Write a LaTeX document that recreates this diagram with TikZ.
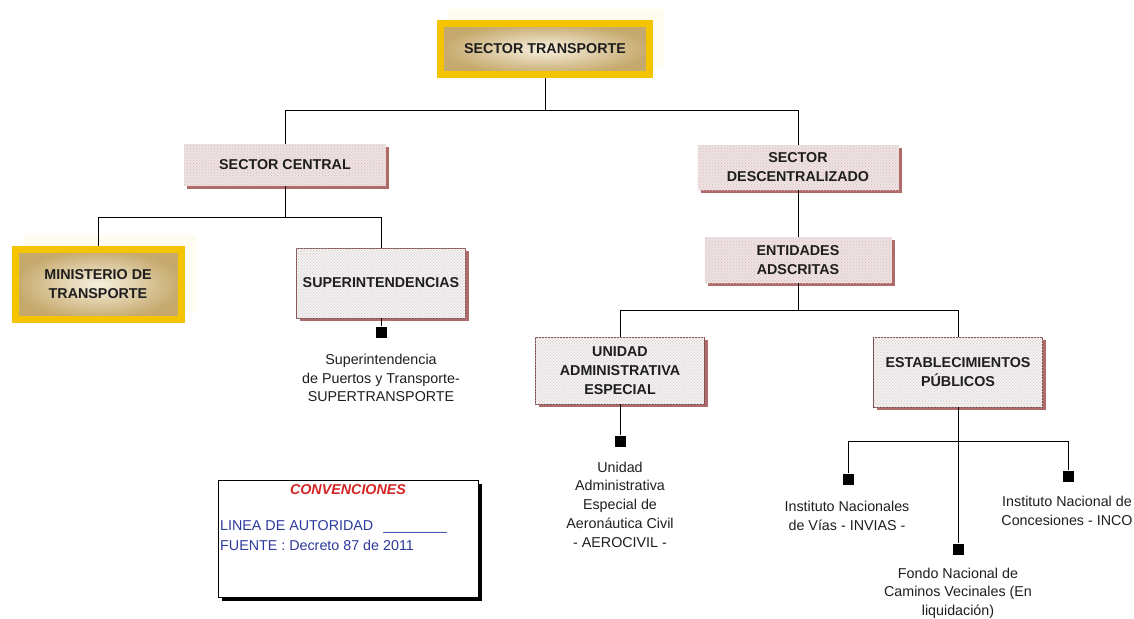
\documentclass[tikz,border=0pt]{standalone}
\usepackage{fontspec}
\setmainfont{Liberation Sans}
\usetikzlibrary{shadows,patterns,calc}
\definecolor{gold}{HTML}{F4C400}
\definecolor{yin}{HTML}{F7F0DF}
\definecolor{yout}{HTML}{C6A96C}
\definecolor{faint}{HTML}{FEFBF1}
\definecolor{txt}{HTML}{1E1E1E}
\definecolor{pinkfill}{HTML}{EFE2E2}
\definecolor{pinkdot}{HTML}{D6BEBE}
\definecolor{greyfill}{HTML}{F5F3F3}
\definecolor{greydot}{HTML}{DCD5D5}
\definecolor{shred}{HTML}{B06A6A}
\definecolor{bord}{HTML}{7E4E4E}
\definecolor{convred}{HTML}{D42424}
\definecolor{convblue}{HTML}{2C3A9C}
\pgfdeclarelayer{faintlayer}
\pgfsetlayers{faintlayer,main}
\begin{document}
\begin{tikzpicture}[x=1pt,y=-1pt,
  every node/.style={font=\fontsize{14.3}{18.5}\selectfont, text=txt},
  ybox/.style={draw=gold, line width=7pt, inner color=yin, outer color=yout,
    font=\fontsize{14.3}{19}\selectfont\bfseries, align=center, inner sep=0pt},
  pbox/.style={fill=pinkfill, postaction={pattern=crosshatch dots, pattern color=pinkdot},
    font=\fontsize{14.3}{19}\selectfont\bfseries, align=center, inner sep=0pt,
    drop shadow={shadow xshift=3pt, shadow yshift=-3pt, fill=shred, opacity=1}},
  bbox/.style={pbox, fill=greyfill, postaction={pattern=crosshatch dots, pattern color=greydot},
    draw=bord, line width=0.8pt},
  sq/.style={fill=black, minimum size=11pt, inner sep=0pt},
  lbl/.style={align=center, inner sep=0pt},
  conn/.style={draw=black, line width=1pt}
]
\useasboundingbox (0,0) rectangle (1134,618);

% faint offset backgrounds of the yellow boxes
\begin{pgfonlayer}{faintlayer}
\fill[faint] (448,9) rectangle (664,67);
\fill[faint] (23,235) rectangle (196,312);
\end{pgfonlayer}

% boxes
\node[ybox, minimum width=209pt, minimum height=51pt] (st) at (545,49) {SECTOR TRANSPORTE};
\node[pbox, minimum width=202pt, minimum height=42pt] (sc) at (285,165) {SECTOR CENTRAL};
\node[pbox, minimum width=201pt, minimum height=45pt] (sd) at (798,167.5) {SECTOR\\DESCENTRALIZADO};
\node[ybox, minimum width=166pt, minimum height=70pt] (min) at (98,284.5) {MINISTERIO DE\\TRANSPORTE};
\node[bbox, minimum width=169pt, minimum height=70pt] (sup) at (381,283) {SUPERINTENDENCIAS};
\node[pbox, minimum width=187pt, minimum height=46pt] (ent) at (798,260) {ENTIDADES\\ADSCRITAS};
\node[bbox, minimum width=169pt, minimum height=67pt] (uae) at (620,370.5) {UNIDAD\\ADMINISTRATIVA\\ESPECIAL};
\node[bbox, minimum width=169pt, minimum height=70pt] (ep) at (958,372) {ESTABLECIMIENTOS\\PÚBLICOS};

% squares
\node[sq] (sq1) at (381,332) {};
\node[sq] (sq2) at (620,441) {};
\node[sq] (sq3) at (848,479) {};
\node[sq] (sq4) at (1068,476) {};
\node[sq] (sq5) at (958,549) {};

% labels
\node[lbl] (l1) at (381,378) {Superintendencia\\de Puertos y Transporte-\\SUPERTRANSPORTE};
\node[lbl, font=\fontsize{14.3}{18.8}\selectfont] (l2) at (620,504.5) {Unidad\\Administrativa\\Especial de\\Aeronáutica Civil\\- AEROCIVIL -};
\node[lbl] (l3) at (847,516) {Instituto Nacionales\\de Vías - INVIAS -};
\node[lbl] (l4) at (1067,511) {Instituto Nacional de\\Concesiones - INCO};
\node[lbl] (l5) at (958,593) {Fondo Nacional de\\Caminos Vecinales (En\\liquidación)};

% conventions box
\node[draw=black, fill=white, line width=0.8pt, minimum width=260pt, minimum height=117pt, inner sep=0pt,
  drop shadow={shadow xshift=4pt, shadow yshift=-4pt, fill=black, opacity=1}] (conv) at (348,538.5) {};
\node[inner sep=0pt, text=convred, font=\fontsize{14.3}{18}\selectfont\bfseries\itshape] (convt) at (348,490) {CONVENCIONES};
\node[inner sep=0pt, anchor=west, text=convblue] (c1) at (220,527) {LINEA DE AUTORIDAD\hspace{10pt}\_\_\_\_\_\_\_\_};
\node[inner sep=0pt, anchor=west, text=convblue] (c2) at (220,545) {FUENTE : Decreto 87 de 2011};

% connectors
\coordinate (j1) at (545,110);
\coordinate (j2) at (285,217);
\coordinate (j3) at (798,310);
\coordinate (j4) at (958,441);
\draw[conn] (st.south) -- (j1);
\draw[conn] (sc.north) -- (sc.north |- j1) -- (sd.north |- j1) -- (sd.north);
\draw[conn] (sc.south) -- (sc.south |- j2);
\draw[conn] (min.north) -- (min.north |- j2) -- (sup.north |- j2) -- (sup.north);
\draw[conn] (sup.south) -- (sq1.north);
\draw[conn] (sd.south) -- (ent.north);
\draw[conn] (ent.south) -- (ent.south |- j3);
\draw[conn] (uae.north) -- (uae.north |- j3) -- (ep.north |- j3) -- (ep.north);
\draw[conn] (uae.south) -- (sq2.north);
\draw[conn] (ep.south) -- (sq5.north);
\draw[conn] (sq3.north) -- (sq3 |- j4) -- (sq4 |- j4) -- (sq4.north);
\end{tikzpicture}
\end{document}
